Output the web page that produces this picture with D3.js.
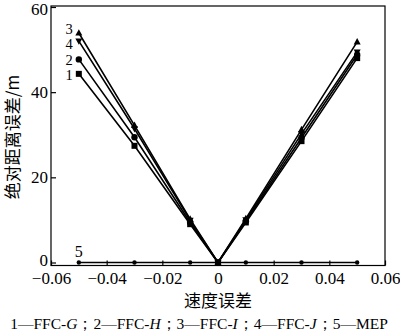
<!DOCTYPE html>
<html><head><meta charset="utf-8">
<script src="https://cdn.jsdelivr.net/npm/d3@7/dist/d3.min.js"></script>
<style>
body{margin:0;background:#fff;}
svg text{font-family:"Liberation Serif","Times New Roman",serif;fill:#000;}
svg text.cjk{font-family:"Noto Sans CJK SC","Noto Sans CJK JP",sans-serif;}
</style></head>
<body><svg id="c" width="400" height="334"></svg>
<script>
const speedErr = [-0.05, -0.03, -0.01, 0, 0.01, 0.03, 0.05];
const ffcG = [44.3, 27.4, 9.0, 0, 9.4, 28.5, 48.0];
const ffcH = [47.7, 29.4, 9.4, 0, 9.7, 29.3, 48.8];
const ffcI = [53.9, 32.2, 10.2, 0, 10.3, 31.2, 51.8];
const ffcJ = [52.0, 31.4, 9.9, 0, 10.0, 30.2, 49.4];
const mep  = [0, 0, 0, 0, 0, 0, 0];
const seriesNames = ["1", "2", "3", "4", "5"];
const xTicks = [-0.06, -0.04, -0.02, 0, 0.02, 0.04, 0.06];
const yTicks = [0, 20, 40, 60];

const svg = d3.select("#c");
const L = 51, R = 385, T = 6, B = 265.5;
const x = d3.scaleLinear().domain([-0.06, 0.06]).range([L, R]);
const y = d3.scaleLinear().domain([0, 60]).range([262.5, 7]);

// frame
svg.append("rect").attr("x", L).attr("y", T).attr("width", R - L).attr("height", B - T)
  .attr("fill", "none").attr("stroke", "#000").attr("stroke-width", 1.2);

// axes with inward ticks
const fmtX = d => d === 0 ? "0" : d3.format(".2f")(d).replace("-", "\u2212");
const xa = svg.append("g").attr("transform", `translate(0,${B})`)
  .call(d3.axisBottom(x).tickValues(xTicks).tickSizeInner(-5).tickSizeOuter(0).tickPadding(6).tickFormat(fmtX));
const ya = svg.append("g").attr("transform", `translate(${L},0)`)
  .call(d3.axisLeft(y).tickValues(yTicks).tickSizeInner(-5).tickSizeOuter(0).tickPadding(3));
[xa, ya].forEach(g => {
  g.attr("font-family", "Liberation Serif").attr("font-size", 17);
  g.select(".domain").remove();
  g.selectAll("line").attr("stroke", "#000").attr("stroke-width", 1.2);
  g.selectAll("text").attr("font-family", "Liberation Serif").style("font-family", "Liberation Serif").style("font-size", "17px");
});
ya.selectAll(".tick").filter(d => d === 60).select("text").attr("dy", "0.45em");
ya.selectAll(".tick").filter(d => d === 0).select("text").attr("dy", "0.2em");

const series = [
  {vals: ffcG, name: seriesNames[0], shape: "square", dy: 6},
  {vals: ffcH, name: seriesNames[1], shape: "circle", dy: 6},
  {vals: ffcI, name: seriesNames[2], shape: "up", dy: 1},
  {vals: ffcJ, name: seriesNames[3], shape: "down", dy: 8},
  {vals: mep,  name: seriesNames[4], shape: "dot", dy: 0}
];
const line = d3.line().x((d, i) => x(speedErr[i])).y(d => y(d));

series.forEach(s => {
  svg.append("path").attr("d", line(s.vals)).attr("fill", "none")
    .attr("stroke", "#000").attr("stroke-width", 1.6);
  const g = svg.append("g");
  s.vals.forEach((v, i) => {
    const cx = x(speedErr[i]), cy = y(v);
    if (s.shape === "square") g.append("rect").attr("x", cx - 3).attr("y", cy - 3).attr("width", 6).attr("height", 6);
    else if (s.shape === "circle") g.append("circle").attr("cx", cx).attr("cy", cy).attr("r", 3.2);
    else if (s.shape === "up") g.append("path").attr("d", `M${cx},${cy - 3.8}L${cx + 3.5},${cy + 2.6}L${cx - 3.5},${cy + 2.6}Z`);
    else if (s.shape === "down") g.append("path").attr("d", `M${cx},${cy + 3.8}L${cx + 3.5},${cy - 2.6}L${cx - 3.5},${cy - 2.6}Z`);
    else g.append("circle").attr("cx", cx).attr("cy", cy).attr("r", 2.2);
  });
  g.attr("fill", "#000");
  // series number beside the first point
  const first = s.vals[0];
  if (s.shape === "dot") {
    svg.append("text").attr("x", x(speedErr[0])).attr("y", y(first) - 6)
      .attr("text-anchor", "middle").style("font-size", "16px").text(s.name);
  } else {
    svg.append("text").attr("x", x(speedErr[0]) - 6).attr("y", y(first) + s.dy)
      .attr("text-anchor", "end").style("font-size", "14.5px").text(s.name);
  }
});

// axis titles
svg.append("text").attr("class", "cjk").attr("x", 218).attr("y", 307)
  .attr("text-anchor", "middle").style("font-size", "17px").text("速度误差");
svg.append("text").attr("class", "cjk")
  .attr("transform", `translate(19,137) rotate(-90)`)
  .attr("text-anchor", "middle").style("font-size", "17px").text("绝对距离误差/m");

// caption
const cap = svg.append("text").attr("x", 199).attr("y", 329).attr("text-anchor", "middle").style("font-size", "15.5px");
const parts = [["1—FFC-", 0], ["G", 1], ["；2—FFC-", 0], ["H", 1], ["；3—FFC-", 0], ["I", 1], ["；4—FFC-", 0], ["J", 1], ["；5—MEP", 0]];
parts.forEach(p => cap.append("tspan").attr("font-style", p[1] ? "italic" : "normal").text(p[0]));
</script></body></html>
